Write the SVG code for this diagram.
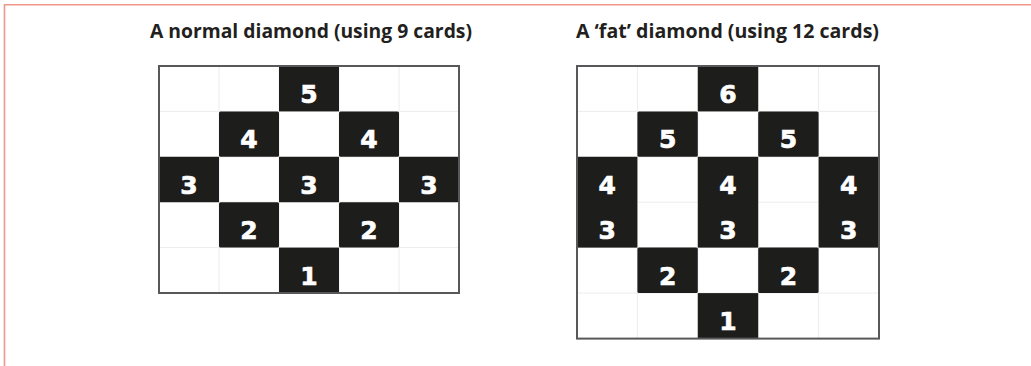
<svg xmlns="http://www.w3.org/2000/svg" width="1031" height="366" viewBox="0 0 1031 366">
<style>
.title{font-family:"Open Sans","Liberation Sans",sans-serif;font-weight:700;font-size:19.5px;fill:#231f20}
.cell{fill:#1d1d1b}
.num{font-family:"DejaVu Sans","Liberation Sans",sans-serif;font-weight:700;font-size:25px;fill:#ffffff;stroke:#ffffff;stroke-width:0.7;text-anchor:middle}
.grid{stroke:#ececec;stroke-width:1;fill:none}
.frame{stroke:#58585a;stroke-width:2;fill:none}
</style>
<rect width="1031" height="366" fill="#ffffff"/>
<path d="M4.5 366 V4.8 H1031" fill="none" stroke="#f2958a" stroke-width="1.6"/>
<g id="normal-diamond">
<text class="title" x="150" y="37.5" textLength="322" lengthAdjust="spacingAndGlyphs">A normal diamond (using 9 cards)</text>
<path class="grid" d="M219 66V293M279 66V293M339 66V293M399 66V293M159 111.4H459M159 156.8H459M159 202.2H459M159 247.6H459"/>
<rect class="cell" x="279" y="66" width="60" height="45.4"/>
<rect class="cell" x="219" y="111.4" width="60" height="45.4" rx="1.5"/>
<rect class="cell" x="339" y="111.4" width="60" height="45.4" rx="1.5"/>
<rect class="cell" x="159" y="156.8" width="60" height="45.4"/>
<rect class="cell" x="279" y="156.8" width="60" height="45.4"/>
<rect class="cell" x="399" y="156.8" width="60" height="45.4"/>
<rect class="cell" x="219" y="202.2" width="60" height="45.4" rx="1.5"/>
<rect class="cell" x="339" y="202.2" width="60" height="45.4" rx="1.5"/>
<rect class="cell" x="279" y="247.6" width="60" height="45.4"/>
<rect class="frame" x="159" y="66" width="300" height="227"/>
<text class="num" x="309" y="103">5</text>
<text class="num" x="249" y="148.4">4</text>
<text class="num" x="369" y="148.4">4</text>
<text class="num" x="189" y="193.8">3</text>
<text class="num" x="309" y="193.8">3</text>
<text class="num" x="429" y="193.8">3</text>
<text class="num" x="249" y="239.2">2</text>
<text class="num" x="369" y="239.2">2</text>
<text class="num" x="309" y="284.6">1</text>
</g>
<g id="fat-diamond">
<text class="title" x="576" y="37.5" textLength="303" lengthAdjust="spacingAndGlyphs">A ‘fat’ diamond (using 12 cards)</text>
<path class="grid" d="M637.4 66V338.6M697.8 66V338.6M758.2 66V338.6M818.6 66V338.6M577 111.4H879M577 156.8H879M577 202.2H879M577 247.6H879M577 293.1H879"/>
<rect class="cell" x="697.8" y="66" width="60.4" height="45.4"/>
<rect class="cell" x="637.4" y="111.4" width="60.4" height="45.4" rx="1.5"/>
<rect class="cell" x="758.2" y="111.4" width="60.4" height="45.4" rx="1.5"/>
<rect class="cell" x="577" y="156.8" width="60.4" height="90.8"/>
<rect class="cell" x="697.8" y="156.8" width="60.4" height="90.8"/>
<rect class="cell" x="818.6" y="156.8" width="60.4" height="90.8"/>
<rect class="cell" x="637.4" y="247.6" width="60.4" height="45.5" rx="1.5"/>
<rect class="cell" x="758.2" y="247.6" width="60.4" height="45.5" rx="1.5"/>
<rect class="cell" x="697.8" y="293.1" width="60.4" height="45.5"/>
<rect class="frame" x="577" y="66" width="302" height="272.6"/>
<text class="num" x="728" y="103">6</text>
<text class="num" x="667.6" y="148.4">5</text>
<text class="num" x="788.4" y="148.4">5</text>
<text class="num" x="607.2" y="193.8">4</text>
<text class="num" x="728" y="193.8">4</text>
<text class="num" x="848.8" y="193.8">4</text>
<text class="num" x="607.2" y="239.2">3</text>
<text class="num" x="728" y="239.2">3</text>
<text class="num" x="848.8" y="239.2">3</text>
<text class="num" x="667.6" y="284.6">2</text>
<text class="num" x="788.4" y="284.6">2</text>
<text class="num" x="728" y="330">1</text>
</g>
</svg>
